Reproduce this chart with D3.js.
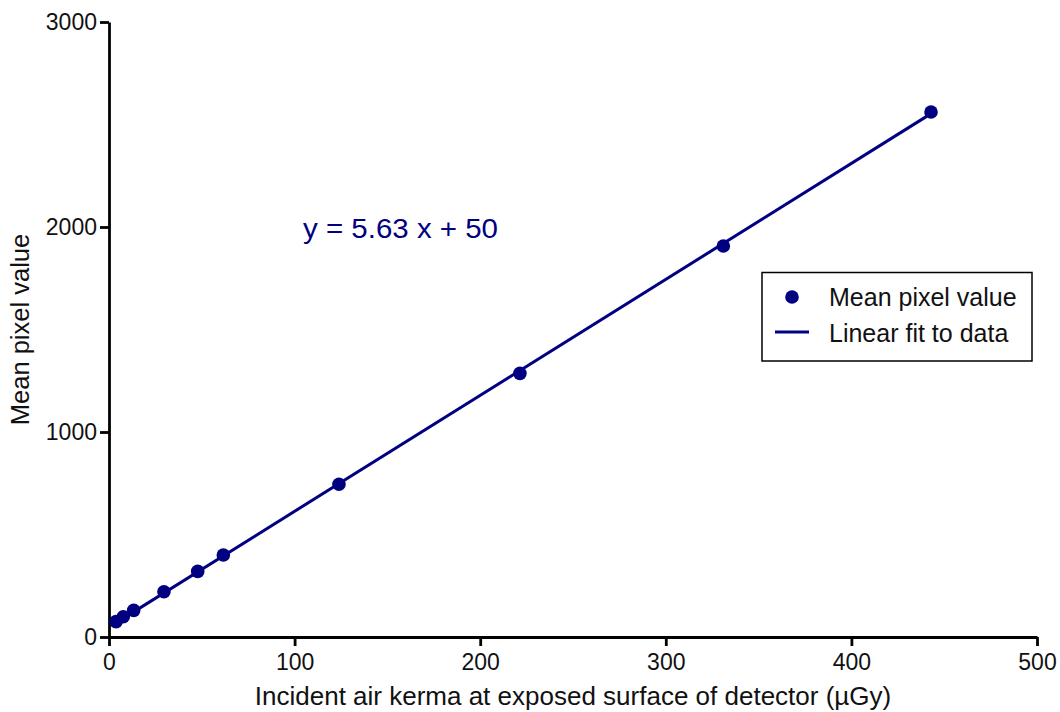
<!DOCTYPE html>
<html>
<head>
<meta charset="utf-8">
<script src="https://cdn.jsdelivr.net/npm/d3@7"></script>
<style>
  html, body { margin: 0; padding: 0; background: #fff; }
  svg { display: block; font-family: "Liberation Sans", Arial, sans-serif; }
</style>
</head>
<body>
<svg id="chart" width="1060" height="712"></svg>
<script>
// Data
const kerma = [3.8, 7.7, 13.3, 29.6, 47.8, 61.6, 123.9, 221.4, 331.0, 442.9];
const meanPixel = [75, 99, 130, 221, 320, 400, 745, 1286, 1907, 2561];
const fitX = [3.8, 442.9];
const fitY = [69, 2553];
const xTicks = [0, 100, 200, 300, 400, 500];
const yTicks = [0, 1000, 2000, 3000];
const equationText = "y = 5.63 x + 50";
const legendLabels = ["Mean pixel value", "Linear fit to data"];
const xLabel = "Incident air kerma at exposed surface of detector (\u00B5Gy)";
const yLabel = "Mean pixel value";

const color = "#000080";
const svg = d3.select("#chart");
const margin = {left: 109, right: 23, top: 22, bottom: 75};
const W = 1060, H = 712;

const x = d3.scaleLinear().domain([0, 500]).range([margin.left, W - margin.right]);
const y = d3.scaleLinear().domain([0, 3000]).range([H - margin.bottom, margin.top]);

// Axes
const xAxis = svg.append("g")
  .attr("transform", `translate(0,${y(0)})`)
  .call(d3.axisBottom(x).tickValues(xTicks).tickSize(9).tickPadding(8).tickSizeOuter(0).tickFormat(d3.format("d")));
const yAxis = svg.append("g")
  .attr("transform", `translate(${x(0)},0)`)
  .call(d3.axisLeft(y).tickValues(yTicks).tickSize(9).tickPadding(3).tickSizeOuter(0).tickFormat(d3.format("d")));

[xAxis, yAxis].forEach(g => {
  g.select(".domain").attr("stroke", "#000").attr("stroke-width", 2.8);
  g.selectAll(".tick line").attr("stroke", "#000").attr("stroke-width", 2.8);
  g.selectAll(".tick text").attr("fill", "#111").style("font-size", "23px")
    .style("font-family", "'Liberation Sans', Arial, sans-serif");
});

// Fit line
svg.append("line")
  .attr("x1", x(fitX[0])).attr("y1", y(fitY[0]))
  .attr("x2", x(fitX[1])).attr("y2", y(fitY[1]))
  .attr("stroke", color).attr("stroke-width", 3);

// Points
svg.append("g").selectAll("circle")
  .data(kerma.map((k, i) => [k, meanPixel[i]]))
  .join("circle")
  .attr("cx", d => x(d[0])).attr("cy", d => y(d[1]))
  .attr("r", 6.8).attr("fill", color);

// Equation
svg.append("text")
  .attr("x", 303).attr("y", 238)
  .attr("fill", color)
  .style("font-size", "27px")
  .attr("textLength", 195).attr("lengthAdjust", "spacingAndGlyphs")
  .text(equationText);

// Axis labels
svg.append("text")
  .attr("x", (x(0) + x(500)) / 2).attr("y", 705)
  .attr("text-anchor", "middle").attr("fill", "#111")
  .style("font-size", "26px")
  .text(xLabel);
svg.append("text")
  .attr("transform", `translate(29,${(y(0) + y(3000)) / 2}) rotate(-90)`)
  .attr("text-anchor", "middle").attr("fill", "#111")
  .style("font-size", "25.5px")
  .text(yLabel);

// Legend
const lg = svg.append("g");
lg.append("rect")
  .attr("x", 762).attr("y", 272.5).attr("width", 270).attr("height", 88.5)
  .attr("fill", "#fff").attr("stroke", "#000").attr("stroke-width", 1.5);
lg.append("circle").attr("cx", 792).attr("cy", 297).attr("r", 6.8).attr("fill", color);
lg.append("line").attr("x1", 775).attr("x2", 809).attr("y1", 332).attr("y2", 332)
  .attr("stroke", color).attr("stroke-width", 3);
lg.selectAll("text.leg").data(legendLabels).join("text")
  .attr("class", "leg")
  .attr("x", 829).attr("y", (d, i) => 306 + i * 35.5)
  .attr("fill", "#111").style("font-size", "25px")
  .text(d => d);
</script>
</body>
</html>
